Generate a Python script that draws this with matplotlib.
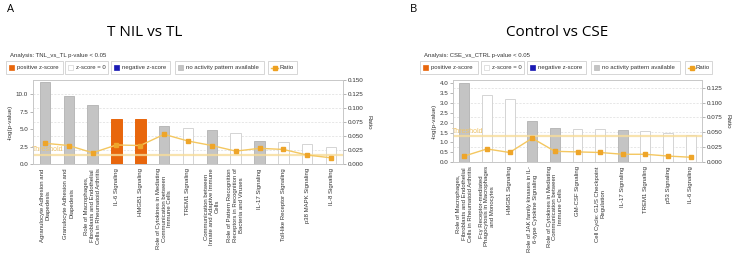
import matplotlib.pyplot as plt
from matplotlib.patches import Rectangle
from matplotlib.lines import Line2D
import numpy as np

plt.rcParams['font.family'] = ['Liberation Sans', 'DejaVu Sans']

# panel A data
labels_a = ["Agranulocyte Adhesion and\nDiapedesis",
            "Granulocyte Adhesion and\nDiapedesis",
            "Role of Macrophages,\nFibroblasts and Endothelial\nCells in Rheumatoid Arthritis",
            "IL-6 Signaling",
            "HMGB1 Signaling",
            "Role of Cytokines in Mediating\nCommunication between\nImmune Cells",
            "TREM1 Signaling",
            "Communication between\nInnate and Adaptive Immune\nCells",
            "Role of Pattern Recognition\nReceptors in Recognition of\nBacteria and Viruses",
            "IL-17 Signaling",
            "Toll-like Receptor Signaling",
            "p38 MAPK Signaling",
            "IL-8 Signaling"]
logp_a = [11.8, 9.85, 8.5, 6.47, 6.47, 5.5, 5.12, 4.88, 4.44, 3.29, 3.19, 2.85, 2.46]
ratio_a = [0.037, 0.033, 0.020, 0.034, 0.033, 0.053, 0.041, 0.033, 0.023, 0.028, 0.026, 0.016, 0.011]
status_a = ['none', 'none', 'none', 'pos', 'pos', 'none', 'zero', 'none', 'zero', 'none', 'zero', 'zero', 'zero']

# panel B data
labels_b = ["Role of Macrophages,\nFibroblasts and Endothelial\nCells in Rheumatoid Arthritis",
            "Fcγ Receptor-mediated\nPhagocytosis in Macrophages\nand Monocytes",
            "HMGB1 Signaling",
            "Role of JAK family kinases in IL-\n6-type Cytokine Signaling",
            "Role of Cytokines in Mediating\nCommunication between\nImmune Cells",
            "GM-CSF Signaling",
            "Cell Cycle: G1/S Checkpoint\nRegulation",
            "IL-17 Signaling",
            "TREM1 Signaling",
            "p53 Signaling",
            "IL-6 Signaling"]
logp_b = [4.0, 3.41, 3.19, 2.08, 1.71, 1.68, 1.70, 1.61, 1.60, 1.50, 1.39]
ratio_b = [0.010, 0.022, 0.016, 0.040, 0.018, 0.017, 0.016, 0.013, 0.013, 0.010, 0.008]
status_b = ['none', 'zero', 'zero', 'none', 'none', 'zero', 'zero', 'none', 'zero', 'zero', 'zero']

threshold = 1.3

W, H = 734, 254
fig = plt.figure(figsize=(W / 100, H / 100), dpi=100)

face = {'pos': '#e8660c', 'zero': 'white', 'none': '#c4c4c4', 'neg': '#1a1ab4'}
edge = {'pos': '#e8660c', 'zero': '#d4d4d4', 'none': '#b8b8b8', 'neg': '#1a1ab4'}


def px_axes(l, t, r, b):
    return fig.add_axes([l / W, 1 - b / H, (r - l) / W, (b - t) / H])


def legend_row(x0, y0, analysis, boxes):
    fig.text((x0 + 4) / W, 1 - y0 / H, analysis, fontsize=4.3, color='#333333', va='center')
    yt, yb = y0 + 6, y0 + 19
    items = [('pos', 'positive z-score'), ('zero', 'z-score = 0'), ('neg', 'negative z-score'),
             ('none', 'no activity pattern available'), ('ratio', 'Ratio')]
    for (bl, br), (key, txt) in zip(boxes, items):
        fig.add_artist(Rectangle((bl / W, 1 - yb / H), (br - bl) / W, (yb - yt) / H,
                                 transform=fig.transFigure, fc='white', ec='#d0d0d0', lw=0.6))
        yc = 1 - (yt + yb) / 2 / H
        if key == 'ratio':
            fig.add_artist(Line2D([(bl + 3) / W, (bl + 10) / W], [yc, yc], color='#f2c04a', lw=1))
            fig.add_artist(Line2D([(bl + 6.5) / W], [yc], marker='s', ms=2.5, color='#eea020', lw=0))
        else:
            fig.add_artist(Rectangle(((bl + 3) / W, yc - 2.5 / H), 5 / W, 5 / H,
                                     transform=fig.transFigure, fc=face[key], ec=edge[key], lw=0.5))
        fig.text((bl + 11) / W, yc, txt, fontsize=4.3, color='#333333', va='center')


def panel(ax, labels, logp, ratio, status, ylim_left, ylim_right, yticks, rticks):
    x = np.arange(len(labels))
    # dashed grid at the ratio ticks, behind the bars
    for t in rticks[1:-1] if rticks[-1] >= ylim_right[1] else rticks[1:]:
        ax.axhline(t * ylim_left[1] / ylim_right[1], color='#dddddd',
                   linestyle=(0, (3, 2)), lw=0.5, zorder=1)
    for xi, v, s in zip(x, logp, status):
        ax.bar(xi, v, width=0.44, color=face[s], edgecolor=edge[s], linewidth=0.7, zorder=2)
    ax.set_xlim(-0.5, len(labels) - 0.5)
    ax.set_ylim(*ylim_left)
    ax.set_yticks(yticks)
    ax.set_yticklabels(['%.1f' % t for t in yticks], fontsize=4.5, color='#333333')
    ax.set_ylabel('-log(p-value)', fontsize=4.5, color='#333333', labelpad=2)
    ax.set_xticks(x)
    ax.set_xticklabels(labels, rotation=90, fontsize=4.3, color='#333333', va='top', ha='center')
    ax.tick_params(axis='x', length=0, pad=3)
    ax.tick_params(axis='y', length=2, width=0.5, pad=1.5, color='#999999')
    ax.axhline(threshold, color='#f7dc9a', lw=1.6, alpha=0.8, zorder=3)
    ax.text(-0.55, threshold + 0.02 * ylim_left[1], 'Threshold', fontsize=5, color='#f0c468',
            va='bottom', ha='left', zorder=4)
    for sp in ax.spines.values():
        sp.set_color('#c8c8c8')
        sp.set_linewidth(0.6)
    ax2 = ax.twinx()
    ax2.plot(x, ratio, color='#f4c760', lw=1, zorder=5)
    ax2.plot(x, ratio, 's', ms=3.5, color='#eea52a', zorder=6)
    ax2.set_ylim(*ylim_right)
    ax2.set_yticks(rticks)
    ax2.set_yticklabels(['%.3f' % t for t in rticks], fontsize=4.5, color='#333333')
    ax2.tick_params(axis='y', length=2, width=0.5, pad=1.5, color='#999999')
    ax2.set_ylabel('Ratio', fontsize=4.5, color='#333333', rotation=270, labelpad=6)
    for sp in ax2.spines.values():
        sp.set_color('#c8c8c8')
        sp.set_linewidth(0.6)
    return ax2


# panel A
fig.text(7 / W, 1 - 9 / H, 'A', fontsize=8, va='center', family=['Open Sans', 'DejaVu Sans'])
fig.text(145 / W, 1 - 32 / H, 'T NIL vs TL', fontsize=11, ha='center', va='center',
         family=['Open Sans', 'DejaVu Sans'])
legend_row(6, 55, 'Analysis: TNL_vs_TL p-value < 0.05',
           [(6, 63), (65, 108), (111, 170), (175, 264), (268, 297)])
ax_a = px_axes(33, 80, 343, 164)
panel(ax_a, labels_a, logp_a, ratio_a, status_a, (0, 12.08), (0, 0.15),
      [0.0, 2.5, 5.0, 7.5, 10.0], [0.0, 0.025, 0.05, 0.075, 0.1, 0.125, 0.15])

# panel B
fig.text(410 / W, 1 - 9 / H, 'B', fontsize=8, va='center', family=['Open Sans', 'DejaVu Sans'])
fig.text(557 / W, 1 - 32 / H, 'Control vs CSE', fontsize=11, ha='center', va='center',
         family=['Open Sans', 'DejaVu Sans'])
legend_row(420, 55, 'Analysis: CSE_vs_CTRL p-value < 0.05',
           [(420, 478), (481, 524), (527, 586), (591, 680), (685, 712)])
ax_b = px_axes(453, 80, 702, 162)
panel(ax_b, labels_b, logp_b, ratio_b, status_b, (0, 4.17), (0, 0.138),
      [0.0, 0.5, 1.0, 1.5, 2.0, 2.5, 3.0, 3.5, 4.0], [0.0, 0.025, 0.05, 0.075, 0.1, 0.125])

fig.savefig('out.png', dpi=100)
